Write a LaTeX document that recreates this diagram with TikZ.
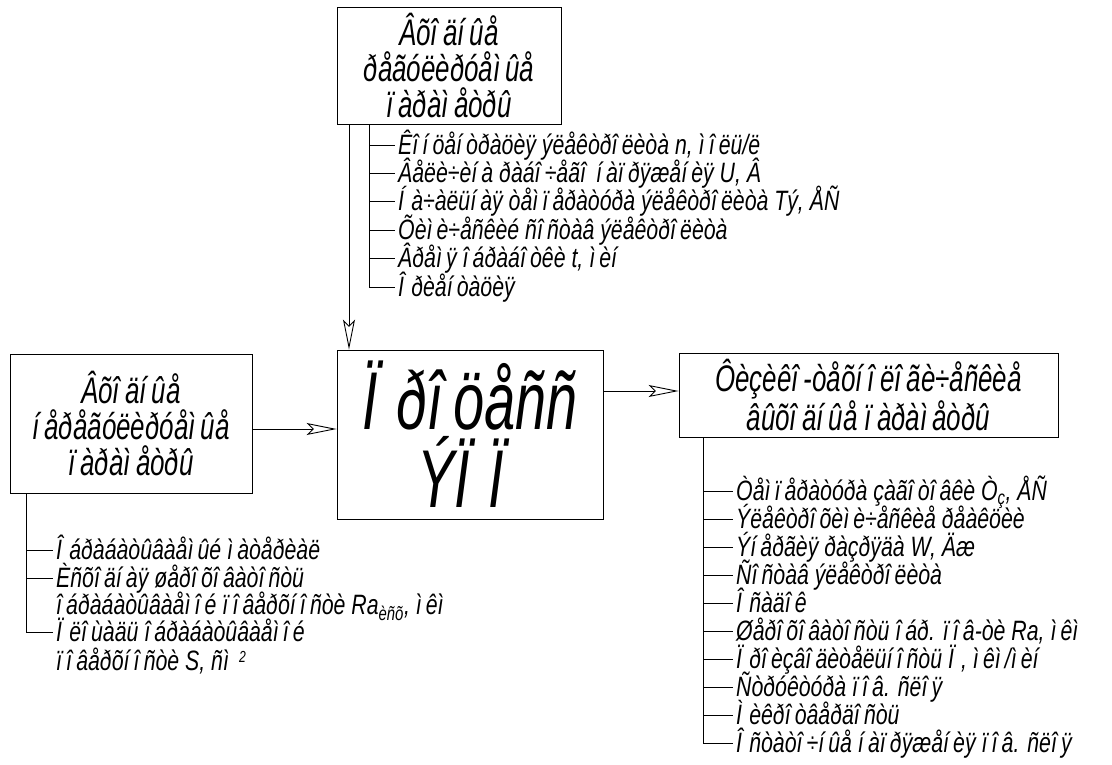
\documentclass[tikz,border=0pt]{standalone}
\usepackage{fontspec}
\setmainfont{Liberation Sans}[FakeStretch=0.7]
\newfontfamily\listf{Liberation Sans}[FakeStretch=0.76]
\newfontfamily\bigf{Liberation Sans}[FakeStretch=0.68]
\usetikzlibrary{arrows.meta}
\newcommand\wgl[1]{\setbox0\hbox{n}\hbox to 0.85\wd0{#1\hss}}
\newcommand\wgu[1]{\setbox0\hbox{H}\hbox to 0.85\wd0{#1\hss}}
\newcommand\supr[1]{\raisebox{0.3em}{\fontsize{16}{16}\selectfont #1}}
\catcode`ì=\active
\protected\defì{\wgl{\char"EC }}
\catcode`í=\active
\protected\defí{\wgl{\char"ED }}
\catcode`î=\active
\protected\defî{\wgl{\char"EE }}
\catcode`ï=\active
\protected\defï{\wgl{\char"EF }}
\catcode`Ì=\active
\protected\defÌ{\wgu{\char"CC }}
\catcode`Í=\active
\protected\defÍ{\wgu{\char"CD }}
\catcode`Î=\active
\protected\defÎ{\wgu{\char"CE }}
\catcode`Ï=\active
\protected\defÏ{\wgu{\char"CF }}
\begin{document}
\begin{tikzpicture}[x=1pt,y=-1pt,
  box/.style={draw, line width=0.9pt, inner sep=0pt, align=center,
    font=\fontsize{37}{36}\selectfont\itshape},
  item/.style={anchor=west, inner sep=0pt, inner xsep=3pt, text height=19pt, text depth=0pt,
    font=\listf\fontsize{28}{28}\selectfont\itshape},
  conn/.style={line width=0.9pt, -{Stealth[open,length=30pt,width=12pt,inset=6pt]}},
  tree/.style={line width=0.9pt}]
\useasboundingbox (0,0) rectangle (1112,764);
% boxes
\node[box, minimum width=224pt, minimum height=117pt] (top) at (449,65.5)
  {Âõîäíûå\\ðåãóëèðóåìûå\\ïàðàìåòðû};
\node[box, minimum width=266pt, minimum height=169pt,
  font=\bigf\fontsize{82}{78}\selectfont\itshape] (mid) at (470,434.5)
  {Ïðîöåññ\\ÝÏÏ};
\node[box, minimum width=242pt, minimum height=139pt] (lft) at (131,423.5)
  {Âõîäíûå\\íåðåãóëèðóåìûå\\ïàðàìåòðû};
\node[box, minimum width=379pt, minimum height=84pt] (rgt) at (868.5,395)
  {Ôèçèêî-òåõíîëîãè÷åñêèå\\âûõîäíûå ïàðàìåòðû};
% arrows
\coordinate (ax) at (349,0);
\coordinate (ly) at (0,429);
\coordinate (ry) at (0,391);
\draw[conn] (top.south -| ax) -- (mid.north -| ax);
\draw[conn] (lft.east |- ly) -- (mid.west |- ly);
\draw[conn] (mid.east |- ry) -- (rgt.west |- ry);
% top list
\node[item] (t1) at (395,145) {Êîíöåíòðàöèÿ ýëåêòðîëèòà n, ìîëü/ë};
\node[item] (t2) at (395,173) {Âåëè÷èíà ðàáî÷åãî íàïðÿæåíèÿ U, Â};
\node[item] (t3) at (395,201) {Íà÷àëüíàÿ òåìïåðàòóðà ýëåêòðîëèòà Tý, ÅÑ};
\node[item] (t4) at (395,230) {Õèìè÷åñêèé ñîñòàâ ýëåêòðîëèòà};
\node[item] (t5) at (395,258) {Âðåìÿ îáðàáîòêè t, ìèí};
\node[item] (t6) at (395,287) {Îðèåíòàöèÿ};
\coordinate (tx) at (369,0);
\draw[tree] (top.south -| tx) -- (t6.west -| tx) -- (t6.west);
\foreach \n in {t1,t2,t3,t4,t5} \draw[tree] (\n.west -| tx) -- (\n.west);
% left list
\node[item] (l1) at (53,550) {Îáðàáàòûâàåìûé ìàòåðèàë};
\node[item] (l2) at (53,578) {Èñõîäíàÿ øåðîõîâàòîñòü};
\node[item] (l2b) at (53,605) {îáðàáàòûâàåìîé ïîâåðõíîñòè Ra\textsubscript{èñõ}, ìêì};
\node[item] (l3) at (53,632) {Ïëîùàäü îáðàáàòûâàåìîé};
\node[item] (l3b) at (53,661) {ïîâåðõíîñòè S, ñì \supr{2}};
\coordinate (lx) at (26,0);
\draw[tree] (lft.south -| lx) -- (l3.west -| lx) -- (l3.west);
\foreach \n in {l1,l2} \draw[tree] (\n.west -| lx) -- (\n.west);
% right list
\node[item] (r1) at (733,491) {Òåìïåðàòóðà çàãîòîâêè Ò\textsubscript{ç}, ÅÑ};
\node[item] (r2) at (733,519) {Ýëåêòðîõèìè÷åñêèå ðåàêöèè};
\node[item] (r3) at (733,547) {Ýíåðãèÿ ðàçðÿäà W, Äæ};
\node[item] (r4) at (733,575) {Ñîñòàâ ýëåêòðîëèòà};
\node[item] (r5) at (733,603) {Îñàäîê};
\node[item] (r6) at (733,631) {Øåðîõîâàòîñòü îáð. ïîâ-òè Ra, ìêì};
\node[item] (r7) at (733,659) {Ïðîèçâîäèòåëüíîñòü Ï, ìêì/ìèí};
\node[item] (r8) at (733,687) {Ñòðóêòóðà ïîâ. ñëîÿ};
\node[item] (r9) at (733,715) {Ìèêðîòâåðäîñòü};
\node[item] (r10) at (733,743) {Îñòàòî÷íûå íàïðÿæåíèÿ ïîâ. ñëîÿ};
\coordinate (rx) at (703,0);
\draw[tree] (rgt.south -| rx) -- (r10.west -| rx) -- (r10.west);
\foreach \n in {r1,r2,r3,r4,r5,r6,r7,r8,r9} \draw[tree] (\n.west -| rx) -- (\n.west);
\end{tikzpicture}
\end{document}
